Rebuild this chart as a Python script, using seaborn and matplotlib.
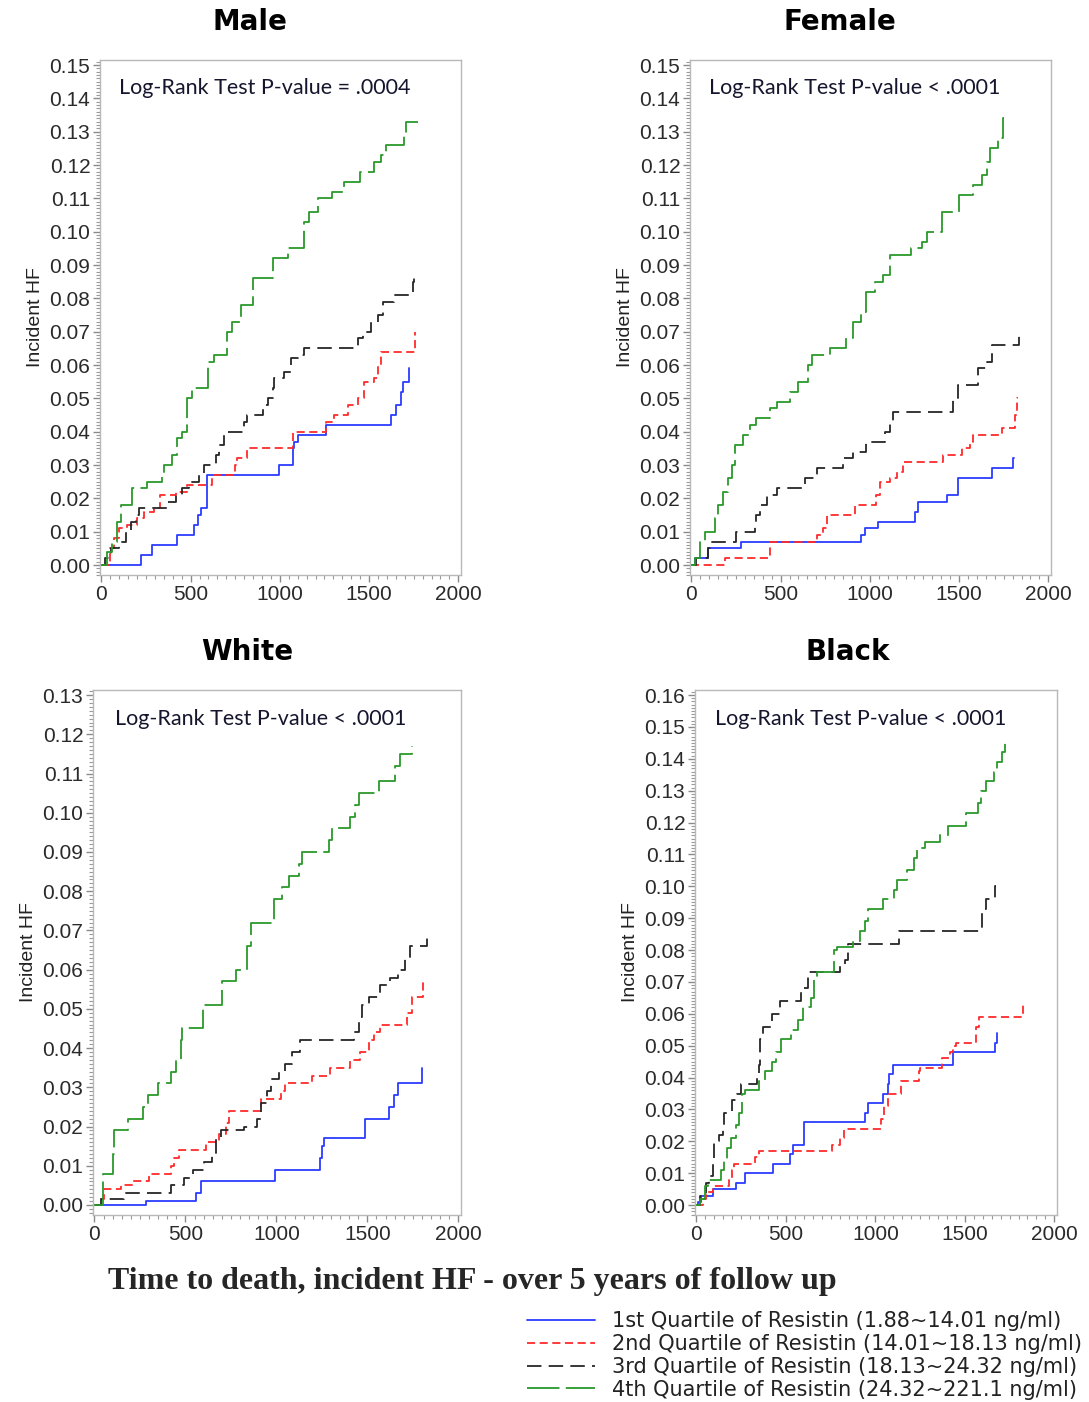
import numpy as np
import pandas as pd
import matplotlib
matplotlib.use("Agg")
import matplotlib.pyplot as plt
import seaborn as sns
from matplotlib.ticker import MultipleLocator, AutoMinorLocator, FormatStrFormatter
from matplotlib.lines import Line2D

# ---------------- data (time in days, cumulative incident HF) ----------------
quartiles = ["1st Quartile of Resistin (1.88~14.01 ng/ml)",
             "2nd Quartile of Resistin (14.01~18.13 ng/ml)",
             "3rd Quartile of Resistin (18.13~24.32 ng/ml)",
             "4th Quartile of Resistin (24.32~221.1 ng/ml)"]
panel_titles = ["Male", "Female", "White", "Black"]
pvalue_texts = ["Log-Rank Test P-value = .0004",
                "Log-Rank Test P-value < .0001",
                "Log-Rank Test P-value < .0001",
                "Log-Rank Test P-value < .0001"]

# Male
male_q1_t = [0, 219, 285, 425, 519, 540, 560, 594, 996, 1071, 1080, 1099, 1258, 1624, 1652, 1680, 1689, 1721, 1721]
male_q1_v = [0, 0.003, 0.006, 0.009, 0.012, 0.015, 0.017, 0.027, 0.030, 0.035, 0.037, 0.039, 0.042, 0.045, 0.048, 0.052, 0.055, 0.059, 0.059]
male_q2_t = [0, 50, 69, 97, 144, 200, 238, 294, 331, 416, 481, 622, 747, 762, 818, 1071, 1258, 1305, 1380, 1436, 1474, 1530, 1549, 1567, 1755, 1760]
male_q2_v = [0, 0.005, 0.008, 0.011, 0.012, 0.014, 0.016, 0.017, 0.021, 0.022, 0.024, 0.027, 0.030, 0.032, 0.035, 0.040, 0.043, 0.045, 0.048, 0.050, 0.055, 0.056, 0.060, 0.064, 0.070, 0.070]
male_q3_t = [0, 22, 51, 97, 135, 163, 191, 210, 369, 416, 453, 491, 547, 575, 640, 659, 687, 800, 818, 903, 931, 959, 968, 1024, 1062, 1099, 1137, 1436, 1464, 1511, 1549, 1577, 1642, 1745, 1749, 1752]
male_q3_v = [0, 0.002, 0.005, 0.007, 0.010, 0.013, 0.015, 0.017, 0.019, 0.021, 0.023, 0.025, 0.027, 0.030, 0.033, 0.036, 0.040, 0.043, 0.045, 0.048, 0.050, 0.053, 0.056, 0.058, 0.062, 0.063, 0.065, 0.068, 0.070, 0.073, 0.075, 0.079, 0.081, 0.085, 0.088, 0.088]
male_q4_t = [0, 32, 60, 88, 107, 172, 257, 341, 350, 397, 425, 453, 481, 509, 597, 631, 706, 734, 781, 850, 963, 1047, 1137, 1165, 1212, 1290, 1361, 1451, 1530, 1567, 1596, 1698, 1708, 1773]
male_q4_v = [0, 0.004, 0.007, 0.013, 0.018, 0.023, 0.025, 0.027, 0.030, 0.033, 0.038, 0.040, 0.050, 0.053, 0.061, 0.063, 0.070, 0.073, 0.078, 0.086, 0.092, 0.095, 0.103, 0.106, 0.110, 0.112, 0.115, 0.118, 0.121, 0.123, 0.126, 0.130, 0.133, 0.133]

# Female
female_q1_t = [0, 19, 93, 280, 953, 972, 1047, 1252, 1271, 1430, 1495, 1682, 1803, 1805]
female_q1_v = [0, 0.002, 0.005, 0.007, 0.009, 0.011, 0.013, 0.016, 0.019, 0.021, 0.026, 0.029, 0.032, 0.032]
female_q2_t = [0, 187, 439, 701, 738, 757, 916, 1037, 1056, 1112, 1150, 1187, 1411, 1514, 1561, 1579, 1739, 1813, 1823, 1830]
female_q2_v = [0, 0.002, 0.007, 0.009, 0.011, 0.015, 0.018, 0.021, 0.025, 0.026, 0.028, 0.031, 0.033, 0.035, 0.037, 0.039, 0.041, 0.045, 0.050, 0.050]
female_q3_t = [0, 28, 93, 103, 252, 355, 364, 383, 421, 477, 636, 701, 850, 907, 981, 1084, 1112, 1131, 1467, 1495, 1607, 1654, 1682, 1837, 1840]
female_q3_v = [0, 0.002, 0.005, 0.007, 0.010, 0.013, 0.015, 0.018, 0.021, 0.023, 0.026, 0.029, 0.032, 0.034, 0.037, 0.040, 0.043, 0.046, 0.050, 0.054, 0.059, 0.061, 0.066, 0.070, 0.070]
female_q4_t = [0, 19, 47, 75, 131, 150, 178, 206, 225, 243, 290, 327, 364, 439, 477, 551, 598, 654, 673, 776, 869, 907, 953, 981, 1028, 1075, 1112, 1228, 1290, 1318, 1402, 1501, 1579, 1626, 1654, 1673, 1720, 1748, 1750]
female_q4_v = [0, 0.002, 0.007, 0.010, 0.014, 0.018, 0.022, 0.026, 0.030, 0.036, 0.039, 0.042, 0.044, 0.047, 0.049, 0.052, 0.055, 0.060, 0.063, 0.065, 0.068, 0.073, 0.076, 0.082, 0.085, 0.087, 0.093, 0.095, 0.097, 0.100, 0.106, 0.111, 0.114, 0.117, 0.121, 0.125, 0.128, 0.134, 0.134]

# White
white_q1_t = [0, 283, 557, 584, 995, 1242, 1251, 1260, 1489, 1617, 1644, 1671, 1799, 1801]
white_q1_v = [0, 0.001, 0.003, 0.006, 0.009, 0.012, 0.015, 0.017, 0.022, 0.025, 0.028, 0.031, 0.035, 0.035]
white_q2_t = [0, 37, 55, 146, 210, 301, 420, 438, 466, 612, 685, 721, 740, 913, 1023, 1050, 1196, 1297, 1406, 1461, 1507, 1535, 1571, 1717, 1744, 1808, 1810]
white_q2_v = [0, 0.0015, 0.004, 0.005, 0.006, 0.008, 0.010, 0.012, 0.014, 0.016, 0.018, 0.021, 0.024, 0.027, 0.029, 0.031, 0.033, 0.035, 0.037, 0.039, 0.042, 0.044, 0.046, 0.049, 0.053, 0.057, 0.057]
white_q3_t = [0, 37, 164, 420, 493, 539, 603, 648, 667, 694, 822, 895, 913, 950, 968, 1014, 1050, 1087, 1132, 1425, 1452, 1470, 1507, 1571, 1626, 1671, 1708, 1735, 1826, 1830]
white_q3_v = [0, 0.0015, 0.003, 0.005, 0.007, 0.009, 0.011, 0.013, 0.017, 0.019, 0.020, 0.022, 0.026, 0.029, 0.032, 0.034, 0.036, 0.039, 0.042, 0.044, 0.048, 0.051, 0.053, 0.056, 0.058, 0.060, 0.063, 0.066, 0.068, 0.068]
white_q4_t = [0, 46, 100, 110, 183, 265, 292, 347, 420, 447, 475, 484, 594, 703, 776, 840, 858, 986, 1032, 1068, 1123, 1141, 1288, 1306, 1406, 1434, 1452, 1562, 1653, 1681, 1744, 1746]
white_q4_v = [0, 0.008, 0.013, 0.019, 0.022, 0.025, 0.028, 0.031, 0.034, 0.037, 0.042, 0.045, 0.051, 0.057, 0.060, 0.066, 0.072, 0.078, 0.081, 0.084, 0.087, 0.090, 0.093, 0.096, 0.099, 0.102, 0.105, 0.108, 0.112, 0.115, 0.117, 0.117]

# Black
black_q1_t = [0, 9, 27, 91, 219, 274, 429, 521, 539, 603, 941, 959, 1041, 1068, 1078, 1096, 1434, 1671, 1680, 1682]
black_q1_v = [0, 0.001, 0.003, 0.005, 0.007, 0.010, 0.013, 0.016, 0.019, 0.026, 0.029, 0.032, 0.035, 0.038, 0.041, 0.044, 0.048, 0.051, 0.054, 0.054]
black_q2_t = [0, 37, 55, 91, 183, 201, 210, 329, 347, 758, 804, 822, 1032, 1050, 1068, 1141, 1242, 1252, 1370, 1416, 1434, 1452, 1561, 1580, 1826, 1830]
black_q2_v = [0, 0.002, 0.004, 0.006, 0.008, 0.011, 0.013, 0.015, 0.017, 0.019, 0.021, 0.024, 0.027, 0.031, 0.035, 0.039, 0.042, 0.043, 0.046, 0.048, 0.050, 0.051, 0.056, 0.059, 0.063, 0.063]
black_q3_t = [0, 18, 55, 73, 91, 100, 128, 146, 155, 201, 228, 247, 338, 347, 356, 374, 420, 466, 584, 621, 804, 831, 849, 1132, 1598, 1616, 1671, 1673]
black_q3_v = [0, 0.003, 0.007, 0.009, 0.013, 0.020, 0.022, 0.025, 0.029, 0.033, 0.035, 0.038, 0.040, 0.044, 0.052, 0.056, 0.060, 0.064, 0.068, 0.073, 0.075, 0.077, 0.082, 0.086, 0.093, 0.096, 0.100, 0.100]
black_q4_t = [0, 18, 46, 64, 137, 155, 173, 192, 219, 237, 256, 274, 347, 383, 420, 447, 475, 530, 566, 594, 639, 658, 676, 767, 785, 877, 913, 941, 959, 1041, 1105, 1123, 1178, 1215, 1233, 1279, 1361, 1406, 1507, 1571, 1589, 1616, 1662, 1680, 1708, 1726, 1728]
black_q4_v = [0, 0.002, 0.006, 0.008, 0.011, 0.014, 0.018, 0.021, 0.025, 0.029, 0.035, 0.036, 0.039, 0.042, 0.045, 0.048, 0.052, 0.055, 0.058, 0.062, 0.065, 0.071, 0.073, 0.080, 0.081, 0.083, 0.086, 0.089, 0.093, 0.096, 0.099, 0.102, 0.105, 0.109, 0.112, 0.114, 0.116, 0.119, 0.123, 0.126, 0.130, 0.133, 0.136, 0.139, 0.142, 0.145, 0.145]

panel_series = [
    [(male_q1_t, male_q1_v), (male_q2_t, male_q2_v), (male_q3_t, male_q3_v), (male_q4_t, male_q4_v)],
    [(female_q1_t, female_q1_v), (female_q2_t, female_q2_v), (female_q3_t, female_q3_v), (female_q4_t, female_q4_v)],
    [(white_q1_t, white_q1_v), (white_q2_t, white_q2_v), (white_q3_t, white_q3_v), (white_q4_t, white_q4_v)],
    [(black_q1_t, black_q1_v), (black_q2_t, black_q2_v), (black_q3_t, black_q3_v), (black_q4_t, black_q4_v)],
]
y_max_ticks = [0.15, 0.15, 0.13, 0.16]

# ---------------- styling ----------------
sns.set_style("white")
plt.rcParams['font.family'] = ['Liberation Sans', 'DejaVu Sans']

colors = ["#2b3bff", "#ff2b2b", "#262626", "#2a9a2a"]
dash_styles = ["", (4.5, 2.5), (8, 4), (18, 3.5)]
palette = dict(zip(quartiles, colors))
dashes = dict(zip(quartiles, dash_styles))

W, H = 1089, 1402
fig = plt.figure(figsize=(W / 100, H / 100), dpi=100)

# axes boxes in pixel coordinates (left, top, right, bottom)
boxes = [(100, 60, 461, 575), (690, 60, 1051, 575),
         (93, 690, 461, 1215), (695, 690, 1057, 1215)]
ylims = [(-0.0030, 0.1515), (-0.0030, 0.1515), (-0.00255, 0.1313), (-0.0031, 0.1616)]
title_pos = [(250, 22), (840, 22), (247, 652), (848, 652)]

axes = []
for i, (l, t, r, b) in enumerate(boxes):
    ax = fig.add_axes([l / W, 1 - b / H, (r - l) / W, (b - t) / H])
    axes.append(ax)
    rows = []
    for q, (tt, vv) in zip(quartiles, panel_series[i]):
        for a, c in zip(tt, vv):
            rows.append({"Time": a, "HF": c, "Quartile": q})
    df = pd.DataFrame(rows)
    sns.lineplot(data=df, x="Time", y="HF", hue="Quartile", style="Quartile",
                 hue_order=quartiles, style_order=quartiles,
                 palette=palette, dashes=dashes, estimator=None, sort=False,
                 drawstyle="steps-post", linewidth=1.3, legend=False, ax=ax)
    ax.set_xlim(-8, 2015)
    ax.set_ylim(*ylims[i])
    ax.xaxis.set_minor_locator(AutoMinorLocator(10))
    ax.yaxis.set_major_formatter(FormatStrFormatter("%.2f"))
    ax.set_xticks(np.arange(0, 2001, 500))
    ax.set_yticks(np.round(np.arange(0, y_max_ticks[i] + 1e-9, 0.01), 2))
    ax.yaxis.set_minor_locator(AutoMinorLocator(10))
    ax.tick_params(axis="both", which="major", length=5, width=1, color="#8a8a8a",
                   labelsize=15, labelcolor="#2a2a2a", pad=2)
    ax.tick_params(axis="both", which="minor", length=3, width=0.8, color="#9a9a9a")
    ax.tick_params(axis="x", which="both", bottom=True, top=False)
    ax.tick_params(axis="y", which="both", left=True, right=False)
    for s in ax.spines.values():
        s.set_color("#b8b8b8")
        s.set_linewidth(1.0)
    ax.set_xlabel("")
    ax.set_ylabel("Incident HF", fontsize=14, color="#222222", labelpad=4)
    ax.text(0.457, 0.945, pvalue_texts[i], transform=ax.transAxes, ha="center",
            va="center", fontsize=15.5, color="#15152e", family="Lato")
    tx, ty = title_pos[i]
    fig.text(tx / W, 1 - ty / H, panel_titles[i], fontsize=20, fontweight="bold",
             family="DejaVu Sans", color="black", ha="center", va="center")

fig.text(108 / W, 1 - 1282 / H, "Time to death, incident HF - over 5 years of follow up",
         fontsize=23, fontweight="bold", family="Liberation Serif",
         ha="left", va="center")

handles = [Line2D([0], [0], color=c, lw=1.3,
                  linestyle="-" if d == "" else (0, d))
           for c, d in zip(colors, dash_styles)]
leg = fig.legend(handles, quartiles, loc="upper right",
                 bbox_to_anchor=(1082 / W, 1 - 1311 / H),
                 frameon=False, handlelength=3.3,
                 handletextpad=0.8, labelspacing=0.14, borderaxespad=0.0,
                 borderpad=0.0, prop={"family": "DejaVu Sans", "size": 15})
for txt in leg.get_texts():
    txt.set_color("#222222")

fig.savefig("out.png", dpi=100)
